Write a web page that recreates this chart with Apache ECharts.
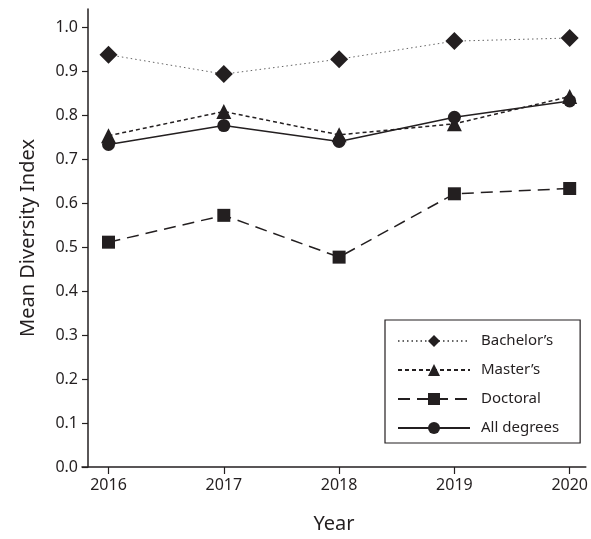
<!DOCTYPE html>
<html>
<head>
<meta charset="utf-8">
<script src="https://cdn.jsdelivr.net/npm/echarts@6/dist/echarts.min.js"></script>
<style>
  html, body { margin: 0; padding: 0; background: #fff; }
  #chart { width: 591px; height: 539px; }
</style>
</head>
<body>
<div id="chart"></div>
<script>
// Years on the horizontal axis
const years = [2016, 2017, 2018, 2019, 2020];

// Tick values on the vertical axis
const yTicks = [0, 0.1, 0.2, 0.3, 0.4, 0.5, 0.6, 0.7, 0.8, 0.9, 1.0];

// Mean diversity index by degree level
const bachelors = [0.937, 0.893, 0.927, 0.968, 0.975];
const masters   = [0.753, 0.808, 0.755, 0.780, 0.842];
const doctoral  = [0.511, 0.572, 0.477, 0.621, 0.633];
const allDeg    = [0.733, 0.776, 0.740, 0.795, 0.832];

const seriesNames = ["Bachelor\u2019s", "Master\u2019s", "Doctoral", "All degrees"];

const ink = '#231f20';
const font = '"Noto Sans", "Open Sans", sans-serif';

function pairs(vals) {
  return years.map((y, i) => [y, vals[i]]);
}

const chart = echarts.init(document.getElementById('chart'));
chart.setOption({
  animation: false,
  backgroundColor: '#fff',
  grid: { left: 82, right: 1, top: 9, bottom: 72 },
  xAxis: {
    type: 'value',
    min: 2015.77,
    max: 2020.14,
    name: 'Year',
    nameLocation: 'middle',
    nameGap: 47,
    nameTextStyle: { fontFamily: font, fontSize: 20, color: ink },
    axisLine: { lineStyle: { color: ink, width: 1.5 } },
    axisTick: { show: true, length: 7, customValues: years, lineStyle: { color: ink, width: 1.2 } },
    axisLabel: { customValues: years, color: ink, fontFamily: font, fontSize: 16, margin: 10,
                 formatter: v => String(Math.round(v)) },
    splitLine: { show: false }
  },
  yAxis: {
    type: 'value',
    min: 0,
    max: 1.041,
    offset: -6,
    name: 'Mean Diversity Index',
    nameLocation: 'middle',
    nameGap: 50,
    nameRotate: 90,
    nameTextStyle: { fontFamily: font, fontSize: 20, color: ink },
    axisLine: { show: true, lineStyle: { color: ink, width: 1.5 } },
    axisTick: { show: true, length: 6, customValues: yTicks, lineStyle: { color: ink, width: 1.2 } },
    axisLabel: { customValues: yTicks, color: ink, fontFamily: font, fontSize: 16, margin: 10,
                 formatter: v => v.toFixed(1) },
    splitLine: { show: false }
  },
  legend: {
    orient: 'vertical',
    left: 385,
    top: 320,
    padding: [12, 21, 6, 12],
    itemGap: 11,
    itemWidth: 72,
    itemHeight: 15,
    backgroundColor: '#fff',
    borderColor: ink,
    borderWidth: 1.2,
    borderRadius: 0,
    textStyle: { fontFamily: font, fontSize: 15, color: ink, padding: [0, 0, 0, 6], lineHeight: 18 },
    data: seriesNames
  },
  series: [
    {
      name: seriesNames[0], type: 'line', data: pairs(bachelors),
      symbol: 'diamond', symbolSize: 18,
      itemStyle: { color: ink },
      lineStyle: { color: '#666', width: 1, type: [1.5, 3] }
    },
    {
      name: seriesNames[1], type: 'line', data: pairs(masters),
      symbol: 'triangle', symbolSize: 15,
      itemStyle: { color: ink },
      lineStyle: { color: ink, width: 1.5, type: [4, 3] }
    },
    {
      name: seriesNames[2], type: 'line', data: pairs(doctoral),
      symbol: 'rect', symbolSize: 13,
      itemStyle: { color: ink },
      lineStyle: { color: ink, width: 1.5, type: [12, 7] }
    },
    {
      name: seriesNames[3], type: 'line', data: pairs(allDeg),
      symbol: 'circle', symbolSize: 13,
      itemStyle: { color: ink },
      lineStyle: { color: ink, width: 1.5 }
    }
  ]
});
</script>
</body>
</html>
